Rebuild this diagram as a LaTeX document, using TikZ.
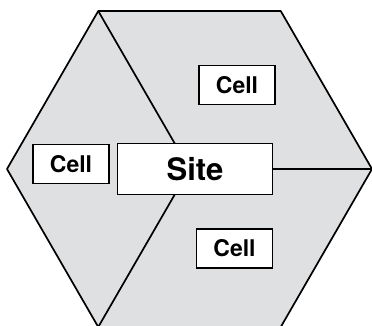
\documentclass[tikz,border=0pt]{standalone}
\usepackage{fontspec}
\setmainfont{TeX Gyre Heros}
\definecolor{hexgray}{HTML}{DFE0E2}
\begin{document}
\begin{tikzpicture}[x=1pt,y=-1pt,
  edge/.style={line width=1.7pt, line join=round},
  cellbox/.style={draw, line width=1.7pt, fill=white, minimum width=76pt, minimum height=39pt, inner sep=0pt, font=\fontsize{23}{26}\selectfont\bfseries},
  sitebox/.style={draw, line width=1.7pt, fill=white, minimum width=155pt, minimum height=51pt, inner sep=0pt, font=\fontsize{31}{34}\selectfont\bfseries}]
\useasboundingbox (0,0) rectangle (372,325);
\coordinate (hc) at (189.5,169);
\coordinate (v0) at (372,169);
\coordinate (v1) at (280.75,11);
\coordinate (v2) at (98.25,11);
\coordinate (v3) at (7,169);
\coordinate (v4) at (98.25,327);
\coordinate (v5) at (280.75,327);
\filldraw[edge, fill=hexgray] (v0) -- (v1) -- (v2) -- (v3) -- (v4) -- (v5) -- cycle;
\draw[edge] (v2) -- (hc);
\draw[edge] (v4) -- (hc);
\draw[edge] (v0) -- (hc);
\node[sitebox] (site) at (195,169) {Site};
\node[cellbox] (cellL) at (71,164) {Cell};
\node[cellbox] (cellT) at (237,85) {Cell};
\node[cellbox] (cellB) at (234.5,248.5) {Cell};
\end{tikzpicture}
\end{document}
